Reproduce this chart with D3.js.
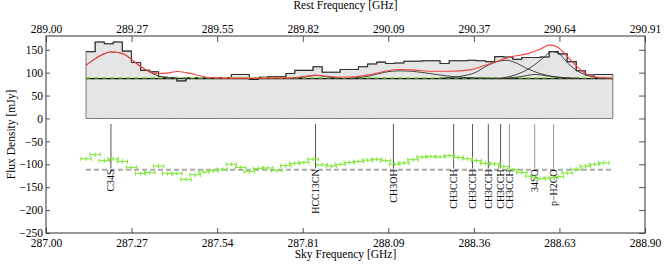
<!DOCTYPE html>
<html>
<head>
<meta charset="utf-8">
<script src="https://cdn.jsdelivr.net/npm/d3@7"></script>
<style>
body { margin: 0; background: #fff; }
svg { display: block; font-family: "Liberation Serif", "DejaVu Serif", serif; }
</style>
</head>
<body>
<div id="chart"></div>
<script>
// channel left edges (sky frequency, GHz)
const chanFreq = [
    287.127, 287.156, 287.185, 287.213, 287.242, 287.271, 287.300, 287.329, 287.357, 287.386,
    287.415, 287.444, 287.473, 287.501, 287.530, 287.559, 287.588, 287.617, 287.645, 287.674,
    287.703, 287.732, 287.761, 287.789, 287.818, 287.847, 287.876, 287.905, 287.933, 287.962,
    287.991, 288.020, 288.049, 288.077, 288.106, 288.135, 288.164, 288.193, 288.221, 288.250,
    288.279, 288.308, 288.337, 288.365, 288.394, 288.423, 288.452, 288.481, 288.509, 288.538,
    288.567, 288.596, 288.625, 288.653, 288.682, 288.711, 288.740, 288.769
];
const chanEnd = 288.798;
const chanHalf = 0.0165;

const fluxValues = [
    146, 167, 163, 167, 147, 122, 105, 102, 90, 89,
    82, 89, 89, 88, 89, 89, 96, 96, 85, 90,
    91, 91, 98, 105, 105, 113, 101, 101, 107, 107,
    113, 119, 123, 120, 121, 125, 125, 126, 126, 120,
    126, 126, 127, 126, 124, 135, 134, 129, 133, 133,
    134, 146, 141, 124, 104, 95, 96, 96
];

const residValues = [
    -88, -79, -92, -88, -94, -107, -120, -118, -104, -120,
    -120, -133, -123, -117, -114, -111, -100, -107, -116, -109,
    -108, -114, -103, -98, -96, -89, -101, -104, -100, -96,
    -94, -91, -89, -92, -100, -97, -90, -84, -83, -84,
    -81, -85, -88, -92, -98, -99, -105, -112, -118, -126,
    -131, -130, -127, -119, -111, -104, -100, -97
];
const residErr = 4.5;
const residZero = -112;

const continuum = 87;
const baselineFit = 89;

// total model
const modelCurve = [
    [287.127, 116], [287.155, 130], [287.184, 141], [287.206, 145], [287.228, 144],
    [287.251, 139], [287.276, 126], [287.301, 113], [287.330, 102], [287.355, 98],
    [287.384, 99], [287.416, 102.5], [287.444, 100], [287.473, 96], [287.501, 91],
    [287.536, 88.5], [287.600, 88], [287.679, 88], [287.774, 88.5], [287.822, 92],
    [287.856, 94.5], [287.891, 92], [287.933, 90], [287.980, 91], [288.028, 96],
    [288.075, 103], [288.117, 107], [288.161, 106], [288.218, 103], [288.282, 103],
    [288.345, 106], [288.389, 115], [288.431, 125], [288.472, 134], [288.526, 141],
    [288.567, 151], [288.596, 160], [288.605, 160], [288.630, 152], [288.662, 129],
    [288.688, 111], [288.716, 96], [288.748, 90], [288.799, 88]
];

// single line components
const compC34S = [
    [287.127, 116], [287.155, 130], [287.184, 141], [287.206, 145], [287.228, 144],
    [287.251, 139], [287.276, 126], [287.301, 113], [287.330, 101], [287.355, 93],
    [287.384, 89.5], [287.416, 88], [287.457, 87]
];
const compHCC13CN = [
    [287.774, 87.2], [287.822, 91], [287.856, 94], [287.891, 91], [287.933, 87.5]
];
const compCH3OH = [
    [287.964, 87.5], [288.028, 93], [288.075, 101], [288.117, 104], [288.161, 103],
    [288.218, 98], [288.282, 92], [288.345, 89], [288.485, 87.5]
];
const compCH3CCH = [
    [288.250, 88], [288.313, 92], [288.361, 100], [288.399, 115], [288.431, 124],
    [288.462, 127], [288.488, 122], [288.526, 109], [288.567, 98], [288.605, 92],
    [288.646, 89], [288.694, 87.5]
];
const comp34SO = [
    [288.456, 87.5], [288.504, 91], [288.551, 96], [288.599, 92], [288.646, 88.5], [288.694, 87.3]
];
const compPH2CO = [
    [288.440, 87.5], [288.488, 95], [288.535, 110], [288.573, 130], [288.605, 146],
    [288.630, 140], [288.656, 120], [288.688, 103], [288.726, 92], [288.757, 88.5],
    [288.795, 87.5]
];
const components = [compC34S, compHCC13CN, compCH3OH, compCH3CCH, comp34SO, compPH2CO];

// line identifications
const lineNames = ['C34S', 'HCC13CN', 'CH3OH', 'CH3CCH', 'CH3CCH', 'CH3CCH', 'CH3CCH', 'CH3CCH', '34SO', 'p\u2212H2CO'];
const lineFreqs = [287.206, 287.855, 288.102, 288.293, 288.353, 288.403, 288.442, 288.470, 288.550, 288.610];
const lineFaint = [false, false, false, false, false, false, false, true, true, true];

// axes
const skyTicks = [287.0, 287.2714, 287.5429, 287.8143, 288.0857, 288.3571, 288.6286, 288.90];
const restTicks = [289.0, 289.2733, 289.5466, 289.8199, 290.0931, 290.3664, 290.6397, 290.913];
const yTicks = [150, 100, 50, 0, -50, -100, -150, -200, -250];

const W = 664, H = 266;
const margin = { top: 36, right: 19, bottom: 33, left: 46 };
const innerW = W - margin.left - margin.right;
const innerH = H - margin.top - margin.bottom;

const svg = d3.select('#chart').append('svg')
    .attr('width', W)
    .attr('height', H);

const g = svg.append('g')
    .attr('transform', `translate(${margin.left},${margin.top})`);

const x = d3.scaleLinear().domain([287.0, 288.9]).range([0, innerW]);
const xRest = d3.scaleLinear().domain([289.0, 290.913]).range([0, innerW]);
const y = d3.scaleLinear().domain([-250, 180]).range([innerH, 0]);

// histogram of the spectrum
const steps = chanFreq.map((f, i) => [f, fluxValues[i]]);
steps.push([chanEnd, fluxValues[fluxValues.length - 1]]);

g.append('path')
    .datum(steps)
    .attr('fill', '#e5e5e5')
    .attr('stroke', '#777')
    .attr('stroke-width', 1)
    .attr('d', d3.area().curve(d3.curveStepAfter)
        .x(d => x(d[0]))
        .y0(y(0))
        .y1(d => y(d[1])));

g.append('path')
    .datum(steps)
    .attr('fill', 'none')
    .attr('stroke', '#333')
    .attr('stroke-width', 1.1)
    .attr('d', d3.line().curve(d3.curveStepAfter)
        .x(d => x(d[0]))
        .y(d => y(d[1])));

// continuum
g.append('line')
    .attr('x1', x(chanFreq[0])).attr('x2', x(chanEnd))
    .attr('y1', y(continuum)).attr('y2', y(continuum))
    .attr('stroke', '#000')
    .attr('stroke-width', 1.4);

g.append('line')
    .attr('x1', x(chanFreq[0])).attr('x2', x(chanEnd))
    .attr('y1', y(baselineFit)).attr('y2', y(baselineFit))
    .attr('stroke', '#8fe050')
    .attr('stroke-width', 1.5)
    .attr('stroke-dasharray', '5,3');

const smooth = d3.line().curve(d3.curveMonotoneX)
    .x(d => x(d[0]))
    .y(d => y(d[1]));

components.forEach(c => {
    g.append('path')
        .datum(c)
        .attr('fill', 'none')
        .attr('stroke', '#333')
        .attr('stroke-width', 0.9)
        .attr('d', smooth);
});

g.append('path')
    .datum(modelCurve)
    .attr('fill', 'none')
    .attr('stroke', '#f24444')
    .attr('stroke-width', 1.1)
    .attr('d', smooth);

// residuals
g.append('line')
    .attr('x1', x(chanFreq[0])).attr('x2', x(chanEnd))
    .attr('y1', y(residZero)).attr('y2', y(residZero))
    .attr('stroke', '#aaa')
    .attr('stroke-width', 2)
    .attr('stroke-dasharray', '5,3');

// line markers
const marks = g.selectAll('.mark')
    .data(lineFreqs)
    .enter().append('g')
    .attr('class', 'mark');

marks.append('line')
    .attr('x1', d => x(d)).attr('x2', d => x(d))
    .attr('y1', y(-12)).attr('y2', y(-109))
    .attr('stroke', (d, i) => lineFaint[i] ? '#999' : '#555')
    .attr('stroke-width', 1);

const resid = g.selectAll('.resid')
    .data(chanFreq.map((f, i) => [f, residValues[i]]))
    .enter().append('g')
    .attr('class', 'resid')
    .attr('stroke', '#84e840')
    .attr('stroke-width', 1.1);

resid.append('line')
    .attr('x1', d => x(d[0] - chanHalf)).attr('x2', d => x(d[0] + chanHalf))
    .attr('y1', d => y(d[1])).attr('y2', d => y(d[1]));
resid.append('line')
    .attr('x1', d => x(d[0])).attr('x2', d => x(d[0]))
    .attr('y1', d => y(d[1] - residErr)).attr('y2', d => y(d[1] + residErr));
resid.append('line')
    .attr('x1', d => x(d[0] - chanHalf)).attr('x2', d => x(d[0] - chanHalf))
    .attr('y1', d => y(d[1] - residErr)).attr('y2', d => y(d[1] + residErr));
resid.append('line')
    .attr('x1', d => x(d[0] + chanHalf)).attr('x2', d => x(d[0] + chanHalf))
    .attr('y1', d => y(d[1] - residErr)).attr('y2', d => y(d[1] + residErr));

marks.append('text')
    .attr('transform', d => `translate(${x(d)},${y(-111)}) rotate(-90)`)
    .attr('text-anchor', 'end')
    .attr('dy', '0.35em')
    .attr('font-size', 10)
    .attr('fill', '#000')
    .text((d, i) => lineNames[i]);

// axes
const fmt = d3.format('.2f');

const axB = g.append('g')
    .attr('transform', `translate(0,${innerH})`)
    .call(d3.axisBottom(x).tickValues(skyTicks).tickFormat(fmt).tickSize(-5).tickPadding(6));
const axT = g.append('g')
    .call(d3.axisTop(xRest).tickValues(restTicks).tickFormat(fmt).tickSize(-6).tickPadding(3));
const axL = g.append('g')
    .call(d3.axisLeft(y).tickValues(yTicks).tickSize(-4).tickPadding(3));
const axR = g.append('g')
    .attr('transform', `translate(${innerW},0)`)
    .call(d3.axisRight(y).tickValues(yTicks).tickFormat('').tickSize(-6));

[axB, axT, axL, axR].forEach(a => {
    a.select('.domain').remove();
    a.selectAll('.tick line').attr('stroke', '#555');
    a.selectAll('text')
        .attr('font-family', '"Liberation Serif", serif')
        .attr('font-size', 11.5)
        .attr('fill', '#000');
});

g.append('rect')
    .attr('width', innerW)
    .attr('height', innerH)
    .attr('fill', 'none')
    .attr('stroke', '#333')
    .attr('stroke-width', 1);

svg.append('text')
    .attr('x', margin.left + innerW / 2)
    .attr('y', 9)
    .attr('text-anchor', 'middle')
    .attr('font-size', 11.5)
    .text('Rest Frequency [GHz]');

svg.append('text')
    .attr('x', margin.left + innerW / 2)
    .attr('y', 258)
    .attr('text-anchor', 'middle')
    .attr('font-size', 11.5)
    .text('Sky Frequency [GHz]');

svg.append('text')
    .attr('transform', `translate(15,${margin.top + innerH / 2}) rotate(-90)`)
    .attr('text-anchor', 'middle')
    .attr('font-size', 11.5)
    .text('Flux Density [mJy]');
</script>
</body>
</html>
